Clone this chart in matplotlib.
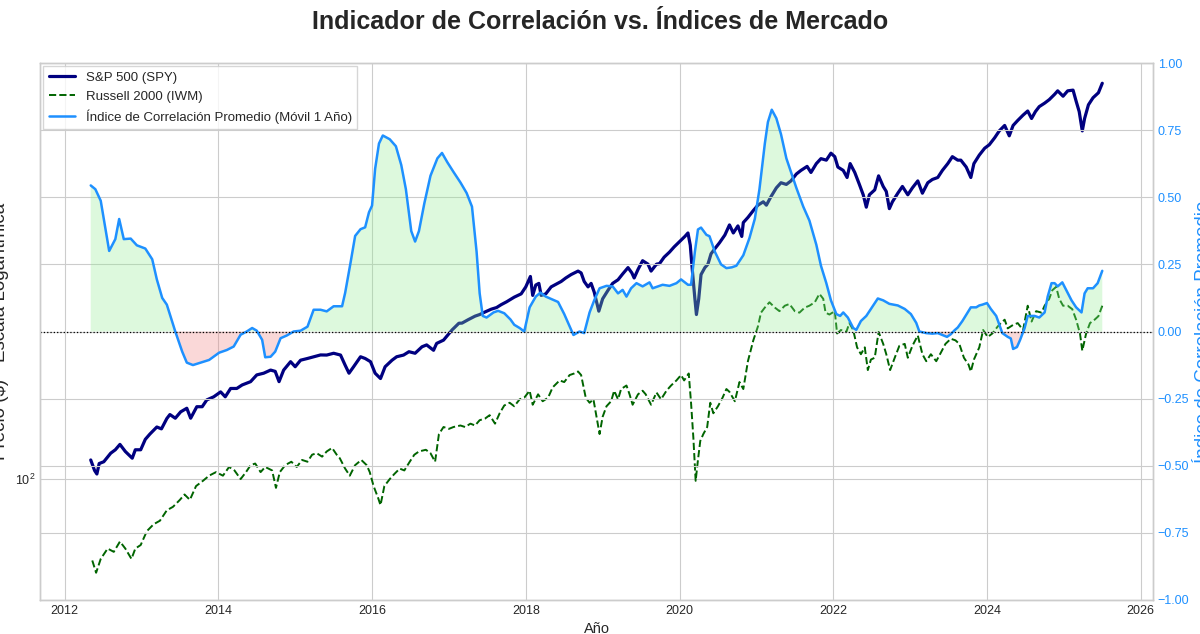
import matplotlib
matplotlib.use("Agg")
import matplotlib.pyplot as plt
import numpy as np
from matplotlib.ticker import FixedLocator, StrMethodFormatter

# --- values (x in fractional years) ---
spy_years = [2012.34, 2012.39, 2012.42, 2012.45, 2012.51, 2012.60, 2012.66, 2012.72, 2012.79, 2012.88,
             2012.92, 2012.99, 2013.05, 2013.11, 2013.20, 2013.26, 2013.33, 2013.37, 2013.44, 2013.51,
             2013.59, 2013.64, 2013.72, 2013.79, 2013.85, 2013.94, 2014.03, 2014.09, 2014.16, 2014.24,
             2014.31, 2014.42, 2014.50, 2014.59, 2014.68, 2014.74, 2014.79, 2014.85, 2014.94, 2015.00,
             2015.07, 2015.16, 2015.24, 2015.33, 2015.41, 2015.50, 2015.59, 2015.65, 2015.70, 2015.76,
             2015.85, 2015.91, 2015.98, 2016.04, 2016.11, 2016.17, 2016.26, 2016.32, 2016.41, 2016.48,
             2016.56, 2016.65, 2016.71, 2016.80, 2016.84, 2016.93, 2017.04, 2017.13, 2017.17, 2017.25,
             2017.34, 2017.40, 2017.47, 2017.55, 2017.62, 2017.68, 2017.75, 2017.85, 2017.94, 2018.00,
             2018.06, 2018.09, 2018.13, 2018.17, 2018.20, 2018.26, 2018.33, 2018.39, 2018.46, 2018.52,
             2018.59, 2018.68, 2018.72, 2018.76, 2018.81, 2018.85, 2018.89, 2018.95, 2019.00, 2019.07,
             2019.13, 2019.20, 2019.26, 2019.33, 2019.38, 2019.41, 2019.46, 2019.52, 2019.59, 2019.63,
             2019.70, 2019.74, 2019.80, 2019.87, 2019.93, 2020.00, 2020.07, 2020.11, 2020.14, 2020.16,
             2020.20, 2020.22, 2020.25, 2020.28, 2020.33, 2020.37, 2020.41, 2020.46, 2020.52, 2020.59,
             2020.65, 2020.70, 2020.76, 2020.81, 2020.83, 2020.89, 2020.96, 2021.02, 2021.09, 2021.13,
             2021.19, 2021.26, 2021.32, 2021.39, 2021.45, 2021.52, 2021.58, 2021.66, 2021.71, 2021.78,
             2021.84, 2021.91, 2021.97, 2022.02, 2022.06, 2022.13, 2022.18, 2022.22, 2022.28, 2022.34,
             2022.39, 2022.43, 2022.47, 2022.54, 2022.59, 2022.65, 2022.69, 2022.73, 2022.77, 2022.84,
             2022.90, 2022.97, 2023.03, 2023.10, 2023.16, 2023.23, 2023.29, 2023.36, 2023.42, 2023.49,
             2023.55, 2023.62, 2023.66, 2023.73, 2023.79, 2023.83, 2023.90, 2023.97, 2024.03, 2024.10,
             2024.16, 2024.23, 2024.29, 2024.34, 2024.40, 2024.47, 2024.53, 2024.58, 2024.63, 2024.68,
             2024.75, 2024.81, 2024.88, 2024.92, 2024.99, 2025.05, 2025.12, 2025.16, 2025.20, 2025.24,
             2025.27, 2025.32, 2025.38, 2025.45, 2025.50]
spy_price = [109.3, 104.1, 102.4, 107.5, 108.4, 112.8, 114.6, 117.5, 113.7, 110.2,
             114.6, 114.6, 120.3, 123.3, 127.4, 126.3, 132.5, 135.0, 132.7, 136.7,
             139.0, 132.7, 140.0, 140.0, 144.5, 146.6, 150.0, 146.6, 152.4, 152.4,
             154.9, 157.3, 162.3, 163.6, 166.0, 165.0, 157.3, 166.0, 172.6, 168.6,
             173.8, 175.2, 176.6, 178.1, 178.0, 179.5, 178.0, 169.8, 163.6, 168.6,
             176.6, 175.2, 172.6, 163.6, 159.6, 168.6, 173.8, 176.6, 178.0, 180.8,
             179.5, 185.0, 186.6, 182.0, 187.9, 190.8, 200.0, 206.4, 206.5, 209.8,
             213.3, 214.9, 217.5, 220.3, 222.0, 225.0, 228.0, 233.0, 236.6, 244.4,
             256.5, 234.9, 246.5, 248.4, 234.9, 236.6, 244.4, 247.2, 250.6, 254.7,
             258.8, 263.0, 260.8, 250.6, 244.4, 248.4, 238.6, 218.3, 231.2, 240.6,
             248.4, 252.6, 259.5, 267.3, 260.8, 254.7, 265.0, 276.0, 271.6, 263.0,
             271.6, 272.3, 280.6, 287.3, 294.3, 301.6, 309.0, 314.0, 296.6, 271.6,
             231.2, 214.9, 231.2, 258.8, 267.3, 271.6, 285.0, 291.9, 300.0, 311.0,
             326.0, 314.0, 324.5, 309.0, 329.6, 337.5, 348.5, 357.3, 363.0, 357.3,
             371.8, 387.3, 396.6, 393.5, 400.0, 413.0, 420.0, 427.9, 416.0, 433.5,
             443.6, 440.5, 455.0, 447.7, 426.6, 420.0, 406.4, 433.5, 416.0, 393.5,
             375.0, 354.0, 375.0, 383.7, 409.5, 389.8, 380.8, 351.6, 363.0, 377.8,
             389.8, 375.0, 387.3, 400.0, 377.8, 396.6, 402.7, 406.4, 420.0, 433.5,
             447.7, 440.5, 440.5, 426.6, 406.4, 433.5, 451.0, 465.6, 473.2, 488.8,
             504.7, 517.6, 493.3, 517.6, 529.8, 543.2, 553.6, 534.6, 552.0, 565.0,
             574.2, 583.6, 598.3, 608.0, 593.0, 608.0, 610.0, 579.4, 552.0, 504.7,
             534.6, 569.8, 588.8, 602.6, 629.8]

iwm_years = [2012.36, 2012.41, 2012.47, 2012.56, 2012.64, 2012.72, 2012.79, 2012.87, 2012.92, 2012.99,
             2013.07, 2013.16, 2013.24, 2013.33, 2013.41, 2013.50, 2013.56, 2013.63, 2013.71, 2013.80,
             2013.88, 2013.97, 2014.06, 2014.14, 2014.21, 2014.29, 2014.36, 2014.42, 2014.48, 2014.55,
             2014.61, 2014.70, 2014.75, 2014.80, 2014.87, 2014.95, 2015.02, 2015.09, 2015.16, 2015.22,
             2015.28, 2015.35, 2015.41, 2015.48, 2015.54, 2015.58, 2015.65, 2015.71, 2015.78, 2015.86,
             2015.93, 2015.97, 2016.02, 2016.08, 2016.11, 2016.16, 2016.23, 2016.29, 2016.36, 2016.42,
             2016.49, 2016.55, 2016.61, 2016.70, 2016.76, 2016.82, 2016.87, 2016.93, 2017.00, 2017.06,
             2017.15, 2017.21, 2017.28, 2017.34, 2017.40, 2017.47, 2017.53, 2017.60, 2017.66, 2017.72,
             2017.79, 2017.85, 2017.92, 2017.98, 2018.05, 2018.09, 2018.16, 2018.22, 2018.29, 2018.35,
             2018.44, 2018.50, 2018.57, 2018.63, 2018.68, 2018.72, 2018.78, 2018.83, 2018.88, 2018.92,
             2018.96, 2019.00, 2019.05, 2019.11, 2019.15, 2019.20, 2019.24, 2019.31, 2019.35, 2019.39,
             2019.46, 2019.52, 2019.56, 2019.63, 2019.70, 2019.76, 2019.83, 2019.89, 2019.96, 2020.02,
             2020.06, 2020.12, 2020.15, 2020.18, 2020.21, 2020.24, 2020.27, 2020.31, 2020.36, 2020.40,
             2020.44, 2020.50, 2020.56, 2020.61, 2020.65, 2020.72, 2020.78, 2020.83, 2020.89, 2020.96,
             2021.02, 2021.06, 2021.11, 2021.17, 2021.24, 2021.30, 2021.37, 2021.43, 2021.50, 2021.56,
             2021.63, 2021.69, 2021.76, 2021.82, 2021.87, 2021.90, 2021.95, 2022.02, 2022.05, 2022.10,
             2022.17, 2022.21, 2022.26, 2022.31, 2022.36, 2022.41, 2022.45, 2022.49, 2022.54, 2022.59,
             2022.65, 2022.69, 2022.74, 2022.80, 2022.86, 2022.93, 2022.97, 2023.03, 2023.10, 2023.16,
             2023.21, 2023.27, 2023.34, 2023.40, 2023.46, 2023.53, 2023.59, 2023.64, 2023.70, 2023.76,
             2023.79, 2023.83, 2023.90, 2023.95, 2024.01, 2024.07, 2024.14, 2024.18, 2024.23, 2024.27,
             2024.34, 2024.40, 2024.47, 2024.53, 2024.58, 2024.64, 2024.71, 2024.75, 2024.81, 2024.85,
             2024.90, 2024.94, 2024.99, 2025.05, 2025.11, 2025.16, 2025.21, 2025.24, 2025.29, 2025.34,
             2025.40, 2025.45, 2025.50]
iwm_price = [68.5, 64.7, 69.0, 72.4, 71.3, 74.8, 72.4, 69.0, 72.4, 73.6,
             78.5, 81.1, 82.4, 86.5, 87.9, 90.8, 93.1, 90.8, 96.8, 99.2,
             101.6, 103.3, 101.6, 105.8, 104.1, 100.0, 103.3, 106.7, 107.5, 103.3,
             105.8, 104.1, 96.0, 103.3, 106.7, 108.4, 105.8, 109.3, 108.4, 112.0,
             112.8, 111.0, 113.7, 115.6, 112.0, 110.2, 105.0, 101.6, 106.7, 109.3,
             106.7, 103.3, 96.8, 91.5, 88.6, 96.8, 100.0, 102.4, 105.0, 104.1,
             108.4, 112.0, 113.7, 114.6, 112.8, 108.4, 123.3, 127.4, 126.3, 127.4,
             128.3, 127.4, 129.4, 128.3, 131.5, 132.5, 134.6, 129.4, 135.8, 140.8,
             142.6, 140.3, 144.9, 146.0, 150.8, 141.3, 148.3, 143.6, 146.0, 153.2,
             158.2, 157.0, 162.2, 163.4, 164.9, 162.2, 146.0, 142.6, 144.9, 133.6,
             123.3, 133.6, 140.3, 143.6, 150.8, 144.9, 152.0, 154.5, 148.3, 141.3,
             148.3, 150.8, 148.3, 141.3, 149.6, 144.9, 150.8, 154.5, 158.2, 162.2,
             158.2, 163.4, 142.6, 121.3, 99.2, 109.3, 119.4, 123.3, 127.4, 142.6,
             135.8, 140.3, 146.0, 152.0, 150.0, 143.6, 157.0, 152.0, 173.0, 190.6,
             203.3, 216.8, 222.0, 227.5, 222.0, 218.3, 223.9, 225.7, 218.3, 216.8,
             222.0, 223.9, 227.5, 236.6, 231.2, 216.8, 214.9, 218.3, 196.8, 200.0,
             198.2, 206.5, 200.0, 184.5, 178.7, 184.5, 166.0, 174.3, 175.8, 198.2,
             187.5, 178.7, 166.0, 175.8, 185.8, 187.5, 175.8, 185.8, 195.0, 178.7,
             173.0, 178.7, 173.0, 180.0, 187.5, 192.0, 190.6, 187.5, 175.8, 170.3,
             164.9, 174.3, 184.5, 200.0, 193.6, 196.8, 203.3, 206.5, 209.8, 201.5,
             204.8, 206.5, 200.0, 223.9, 208.0, 218.3, 216.8, 223.9, 231.2, 240.6,
             244.4, 231.2, 223.9, 223.9, 220.3, 209.8, 196.8, 181.6, 196.8, 206.5,
             209.8, 213.3, 223.9]

corr_years = [2012.34, 2012.40, 2012.47, 2012.58, 2012.66, 2012.71, 2012.77, 2012.86, 2012.94, 2013.05,
              2013.14, 2013.20, 2013.27, 2013.33, 2013.44, 2013.53, 2013.59, 2013.67, 2013.77, 2013.88,
              2014.01, 2014.11, 2014.20, 2014.29, 2014.37, 2014.44, 2014.50, 2014.57, 2014.61, 2014.68,
              2014.74, 2014.81, 2014.89, 2014.98, 2015.07, 2015.16, 2015.24, 2015.33, 2015.41, 2015.50,
              2015.61, 2015.65, 2015.72, 2015.78, 2015.85, 2015.91, 2015.96, 2016.00, 2016.04, 2016.09,
              2016.14, 2016.23, 2016.31, 2016.38, 2016.44, 2016.51, 2016.56, 2016.61, 2016.68, 2016.76,
              2016.85, 2016.91, 2016.98, 2017.06, 2017.15, 2017.23, 2017.30, 2017.36, 2017.40, 2017.44,
              2017.49, 2017.58, 2017.64, 2017.72, 2017.80, 2017.85, 2017.92, 2017.98, 2018.05, 2018.13,
              2018.19, 2018.26, 2018.42, 2018.50, 2018.57, 2018.62, 2018.70, 2018.76, 2018.83, 2018.89,
              2018.96, 2019.05, 2019.13, 2019.20, 2019.26, 2019.31, 2019.37, 2019.44, 2019.52, 2019.61,
              2019.65, 2019.72, 2019.78, 2019.87, 2019.96, 2020.02, 2020.11, 2020.15, 2020.20, 2020.24,
              2020.28, 2020.35, 2020.39, 2020.46, 2020.54, 2020.61, 2020.68, 2020.74, 2020.83, 2020.91,
              2020.98, 2021.04, 2021.11, 2021.15, 2021.20, 2021.26, 2021.32, 2021.39, 2021.45, 2021.52,
              2021.61, 2021.69, 2021.78, 2021.84, 2021.91, 2021.97, 2022.04, 2022.09, 2022.13, 2022.19,
              2022.26, 2022.30, 2022.36, 2022.43, 2022.52, 2022.58, 2022.65, 2022.73, 2022.84, 2022.93,
              2023.01, 2023.08, 2023.12, 2023.21, 2023.29, 2023.36, 2023.42, 2023.48, 2023.53, 2023.58,
              2023.62, 2023.68, 2023.75, 2023.79, 2023.86, 2023.90, 2023.94, 2024.00, 2024.05, 2024.12,
              2024.16, 2024.20, 2024.27, 2024.31, 2024.34, 2024.39, 2024.43, 2024.49, 2024.53, 2024.62,
              2024.68, 2024.75, 2024.79, 2024.84, 2024.88, 2024.92, 2024.98, 2025.03, 2025.10, 2025.16,
              2025.23, 2025.27, 2025.31, 2025.38, 2025.44, 2025.50]
corr_values = [0.544, 0.530, 0.487, 0.300, 0.344, 0.419, 0.344, 0.346, 0.321, 0.309,
               0.269, 0.194, 0.125, 0.100, 0.000, -0.075, -0.116, -0.125, -0.116, -0.106,
               -0.079, -0.069, -0.056, -0.012, 0.000, 0.013, 0.003, -0.031, -0.096, -0.094,
               -0.075, -0.025, -0.015, 0.000, 0.003, 0.018, 0.081, 0.081, 0.075, 0.094,
               0.094, 0.144, 0.256, 0.356, 0.381, 0.388, 0.444, 0.469, 0.606, 0.700,
               0.730, 0.716, 0.690, 0.620, 0.530, 0.374, 0.335, 0.374, 0.477, 0.580,
               0.645, 0.665, 0.630, 0.594, 0.555, 0.516, 0.465, 0.297, 0.142, 0.058,
               0.052, 0.071, 0.077, 0.068, 0.045, 0.025, 0.013, 0.000, 0.090, 0.130,
               0.145, 0.130, 0.110, 0.065, 0.019, -0.013, 0.000, -0.006, 0.071, 0.116,
               0.161, 0.170, 0.168, 0.142, 0.155, 0.130, 0.161, 0.180, 0.168, 0.183,
               0.161, 0.168, 0.174, 0.170, 0.180, 0.194, 0.174, 0.174, 0.297, 0.380,
               0.387, 0.360, 0.355, 0.297, 0.250, 0.236, 0.239, 0.245, 0.284, 0.348,
               0.420, 0.530, 0.700, 0.780, 0.826, 0.794, 0.735, 0.645, 0.594, 0.535,
               0.465, 0.413, 0.323, 0.245, 0.180, 0.116, 0.065, 0.058, 0.071, 0.052,
               0.013, 0.006, 0.039, 0.058, 0.097, 0.123, 0.116, 0.103, 0.097, 0.084,
               0.065, 0.032, 0.000, -0.006, -0.008, -0.006, -0.013, -0.020, -0.010, 0.005,
               0.015, 0.039, 0.071, 0.090, 0.090, 0.097, 0.100, 0.106, 0.084, 0.058,
               0.026, -0.006, -0.020, -0.026, -0.065, -0.058, -0.032, 0.013, 0.058, 0.058,
               0.052, 0.071, 0.130, 0.180, 0.180, 0.168, 0.183, 0.155, 0.116, 0.090,
               0.071, 0.142, 0.161, 0.161, 0.180, 0.226]

year_ticks = [2012, 2014, 2016, 2018, 2020, 2022, 2024, 2026]
corr_ticks = [-1.0, -0.75, -0.5, -0.25, 0.0, 0.25, 0.5, 0.75, 1.0]

plt.style.use("seaborn-v0_8-whitegrid")
plt.rcParams["font.family"] = ["Liberation Sans", "DejaVu Sans"]
plt.rcParams["axes.unicode_minus"] = True

fig = plt.figure(figsize=(12, 6.34), dpi=100)
fig.subplots_adjust(left=40 / 1200, right=1153 / 1200, bottom=1 - 600 / 634, top=1 - 63 / 634)
ax1 = fig.add_subplot(111)

# prices, log scale
ax1.plot(spy_years, spy_price, color="navy", lw=2.3, label="S&P 500 (SPY)")
ax1.plot(iwm_years, iwm_price, color="darkgreen", lw=1.4, ls="--", label="Russell 2000 (IWM)")
ax1.set_yscale("log")
ax1.set_ylim(57, 692)
ax1.set_xlim(2011.68, 2026.16)
ax1.xaxis.set_major_locator(FixedLocator(year_ticks))
ax1.xaxis.set_major_formatter(StrMethodFormatter("{x:.0f}"))
ax1.set_xlabel("Año", fontsize=10.5, labelpad=4)
ax1.set_ylabel("Precio ($) - Escala Logarítmica", fontsize=13.5)
ax1.tick_params(labelsize=9)

# correlation index on the right axis
ax2 = ax1.twinx()
corr = np.array(corr_values)
ax2.fill_between(corr_years, corr, 0, where=corr >= 0, interpolate=True,
                 color="lightgreen", alpha=0.3, lw=0)
ax2.fill_between(corr_years, corr, 0, where=corr < 0, interpolate=True,
                 color="lightcoral", alpha=0.3, lw=0)
corr_line, = ax2.plot(corr_years, corr, color="dodgerblue", lw=1.8,
                      label="Índice de Correlación Promedio (Móvil 1 Año)")
ax2.axhline(0, color="black", ls=":", lw=0.9)
ax2.set_ylim(-1, 1)
ax2.yaxis.set_major_locator(FixedLocator(corr_ticks))
ax2.yaxis.set_major_formatter(StrMethodFormatter("{x:.2f}"))
ax2.tick_params(axis="y", labelcolor="dodgerblue", labelsize=9)
ax2.set_ylabel("Índice de Correlación Promedio", color="dodgerblue", fontsize=13.5)

h1, l1 = ax1.get_legend_handles_labels()
ax1.legend(h1 + [corr_line], l1 + [corr_line.get_label()], loc="upper left",
           fontsize=9.5, frameon=True, framealpha=0.8, edgecolor="0.8", fancybox=False,
           borderaxespad=0.25)

fig.suptitle("Indicador de Correlación vs. Índices de Mercado", fontsize=18,
             fontweight="bold", y=1 - 22 / 634, va="center")

fig.savefig("out.png", dpi=100)
